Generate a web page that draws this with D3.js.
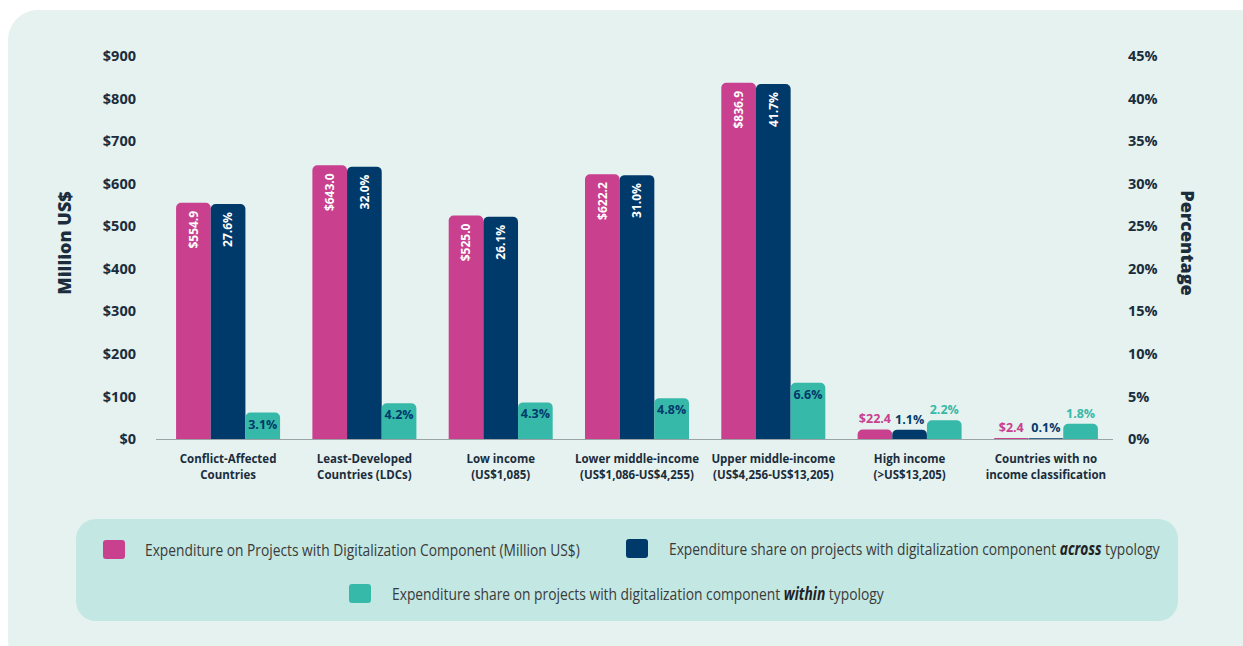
<!DOCTYPE html>
<html>
<head>
<meta charset="utf-8">
<script src="https://cdn.jsdelivr.net/npm/d3@7/dist/d3.min.js"></script>
<style>
  html, body { margin: 0; padding: 0; background: #ffffff; }
  svg { display: block; }
</style>
</head>
<body>
<svg id="chart" width="1243" height="646"></svg>
<script>
// Category labels (two lines each)
const categoryLines = [
  ["Conflict-Affected", "Countries"],
  ["Least-Developed", "Countries (LDCs)"],
  ["Low income", "(US$1,085)"],
  ["Lower middle-income", "(US$1,086-US$4,255)"],
  ["Upper middle-income", "(US$4,256-US$13,205)"],
  ["High income", "(>US$13,205)"],
  ["Countries with no", "income classification"]
];
// Expenditure on projects with digitalization component (million US$)
const expenditure = [554.9, 643.0, 525.0, 622.2, 836.9, 22.4, 2.4];
// Share across typology (%)
const shareAcross = [27.6, 32.0, 26.1, 31.0, 41.7, 1.1, 0.1];
// Share within typology (%)
const shareWithin = [3.1, 4.2, 4.3, 4.8, 6.6, 2.2, 1.8];
// Axis ticks
const moneyTicks = [0, 100, 200, 300, 400, 500, 600, 700, 800, 900];
const shareTicks = [0, 5, 10, 15, 20, 25, 30, 35, 40, 45];

const PINK = "#c8408e", NAVY = "#003a6b", TEAL = "#37b9a9";
const INK = "#1b2d3c";
const BOLD = "'Open Sans', 'Noto Sans', sans-serif";
const LEGEND_FONT = "'Open Sans', 'Noto Sans', sans-serif";

const svg = d3.select("#chart");

// Panel background
svg.append("rect")
  .attr("x", 8).attr("y", 10).attr("width", 1270).attr("height", 660)
  .attr("rx", 30).attr("fill", "#e5f2ef");

const plotLeft = 156, plotRight = 1113, baseY = 439, topY = 56;

const x = d3.scaleBand()
  .domain(d3.range(categoryLines.length))
  .range([157, 1117])
  .paddingInner(0.237)
  .paddingOuter(0.14);

const series = ["exp", "across", "within"];
const xs = d3.scaleBand().domain(series).range([0, x.bandwidth()]).padding(0);

const yMoney = d3.scaleLinear().domain([0, 900]).range([baseY, topY]);
const yShare = d3.scaleLinear().domain([0, 45]).range([baseY, topY]);

// Left axis
const leftAxis = svg.append("g")
  .attr("transform", `translate(${plotLeft},0)`)
  .call(d3.axisLeft(yMoney).tickValues(moneyTicks).tickSize(0).tickPadding(20)
    .tickFormat(d => "$" + d));
leftAxis.select(".domain").remove();
leftAxis.selectAll("text")
  .attr("font-family", BOLD).attr("font-weight", 700)
  .attr("font-size", 14.5).attr("fill", INK);

// Right axis
const rightAxis = svg.append("g")
  .attr("transform", `translate(${plotRight},0)`)
  .call(d3.axisRight(yShare).tickValues(shareTicks).tickSize(0).tickPadding(15)
    .tickFormat(d => d + "%"));
rightAxis.select(".domain").remove();
rightAxis.selectAll("text")
  .attr("font-family", BOLD).attr("font-weight", 700)
  .attr("font-size", 14.5).attr("fill", INK);

// Axis titles
svg.append("text")
  .attr("transform", "translate(71,243) rotate(-90)")
  .attr("text-anchor", "middle")
  .attr("font-family", BOLD).attr("font-weight", 800).attr("font-size", 18)
  .attr("fill", INK).text("Million US$");
svg.append("text")
  .attr("transform", "translate(1181,243) rotate(90)")
  .attr("text-anchor", "middle")
  .attr("font-family", BOLD).attr("font-weight", 800).attr("font-size", 18)
  .attr("fill", INK).text("Percentage");

// Bars with rounded top corners
function topRounded(x0, y0, w, h, r) {
  r = Math.max(0, Math.min(r, h, w / 2));
  return `M${x0},${y0 + h}V${y0 + r}A${r},${r} 0 0 1 ${x0 + r},${y0}` +
         `H${x0 + w - r}A${r},${r} 0 0 1 ${x0 + w},${y0 + r}V${y0 + h}Z`;
}

const rows = categoryLines.map((c, i) => ({
  i,
  bars: [
    { key: "exp", v: expenditure[i], y: yMoney(expenditure[i]), color: PINK, label: "$" + expenditure[i].toFixed(1) },
    { key: "across", v: shareAcross[i], y: yShare(shareAcross[i]), color: NAVY, label: shareAcross[i].toFixed(1) + "%" },
    { key: "within", v: shareWithin[i], y: yShare(shareWithin[i]), color: TEAL, label: shareWithin[i].toFixed(1) + "%" }
  ]
}));

const groups = svg.append("g").selectAll("g")
  .data(rows).join("g")
  .attr("transform", d => `translate(${x(d.i)},0)`);

groups.selectAll("path")
  .data(d => d.bars).join("path")
  .attr("d", b => topRounded(xs(b.key), b.y, xs.bandwidth(), baseY - b.y, 5))
  .attr("fill", b => b.color);

// Value labels
groups.selectAll("text.val")
  .data(d => d.bars).join("text")
  .attr("class", "val")
  .each(function (b) {
    const t = d3.select(this);
    const cx = xs(b.key) + xs.bandwidth() / 2;
    const h = baseY - b.y;
    t.attr("font-family", BOLD).attr("font-weight", 700).text(b.label);
    if (b.key !== "within" && h > 40) {
      t.attr("transform", `translate(${cx},${b.y + 8}) rotate(-90)`)
        .attr("text-anchor", "end").attr("dy", "0.35em")
        .attr("font-size", 12).attr("fill", "#ffffff");
    } else if (b.key === "within" && h > 22) {
      t.attr("x", cx).attr("y", b.y + 16).attr("text-anchor", "middle")
        .attr("font-size", 12.5).attr("fill", NAVY);
    } else {
      t.attr("x", cx).attr("y", b.y - 6).attr("text-anchor", "middle")
        .attr("font-size", 12.5).attr("fill", b.color);
    }
  });

// Baseline
svg.append("line")
  .attr("x1", plotLeft).attr("x2", plotRight)
  .attr("y1", baseY + 0.5).attr("y2", baseY + 0.5)
  .attr("stroke", "#9aa3a6").attr("stroke-width", 1.2);

// Category axis
const bottomAxis = svg.append("g")
  .attr("transform", `translate(0,${baseY})`)
  .call(d3.axisBottom(x).tickSize(0).tickFormat(""));
bottomAxis.select(".domain").remove();
bottomAxis.selectAll(".tick text").remove();
bottomAxis.selectAll(".tick").append("text")
  .attr("text-anchor", "middle")
  .attr("font-family", BOLD).attr("font-weight", 700).attr("font-size", 11.5)
  .attr("fill", INK)
  .selectAll("tspan")
  .data(i => categoryLines[i]).join("tspan")
  .attr("x", 0).attr("y", (d, k) => 24 + k * 16)
  .text(d => d);

// Legend
const legend = svg.append("g");
legend.append("rect")
  .attr("x", 76).attr("y", 519).attr("width", 1102).attr("height", 102)
  .attr("rx", 20).attr("fill", "#c3e7e2");

const legendItems = [
  { color: PINK, sx: 103, sy: 540, tx: 145, w: 435, parts: [["Expenditure on Projects with Digitalization Component (Million US$)", false]] },
  { color: NAVY, sx: 626, sy: 539, tx: 669, w: 491, parts: [["Expenditure share on projects with digitalization component ", false], ["across", true], [" typology", false]] },
  { color: TEAL, sx: 349, sy: 584, tx: 392, w: 492, parts: [["Expenditure share on projects with digitalization component ", false], ["within", true], [" typology", false]] }
];
legendItems.forEach(it => {
  legend.append("rect")
    .attr("x", it.sx).attr("y", it.sy).attr("width", 22).attr("height", 19)
    .attr("rx", 3).attr("fill", it.color);
  // Condensed look: draw at natural width, then squeeze horizontally to the slot width
  const t = legend.append("text")
    .attr("font-family", LEGEND_FONT).attr("font-size", 17).attr("fill", "#3a3a3a")
    .attr("xml:space", "preserve");
  it.parts.forEach(([s, b]) => {
    const sp = t.append("tspan").text(s);
    if (b) sp.attr("font-weight", 700).attr("font-style", "italic").attr("fill", "#222");
  });
  const natural = t.node().getComputedTextLength();
  const k = it.w / natural;
  t.attr("transform", `translate(${it.tx},${it.sy + 16}) scale(${k},1)`);
});
</script>
</body>
</html>
